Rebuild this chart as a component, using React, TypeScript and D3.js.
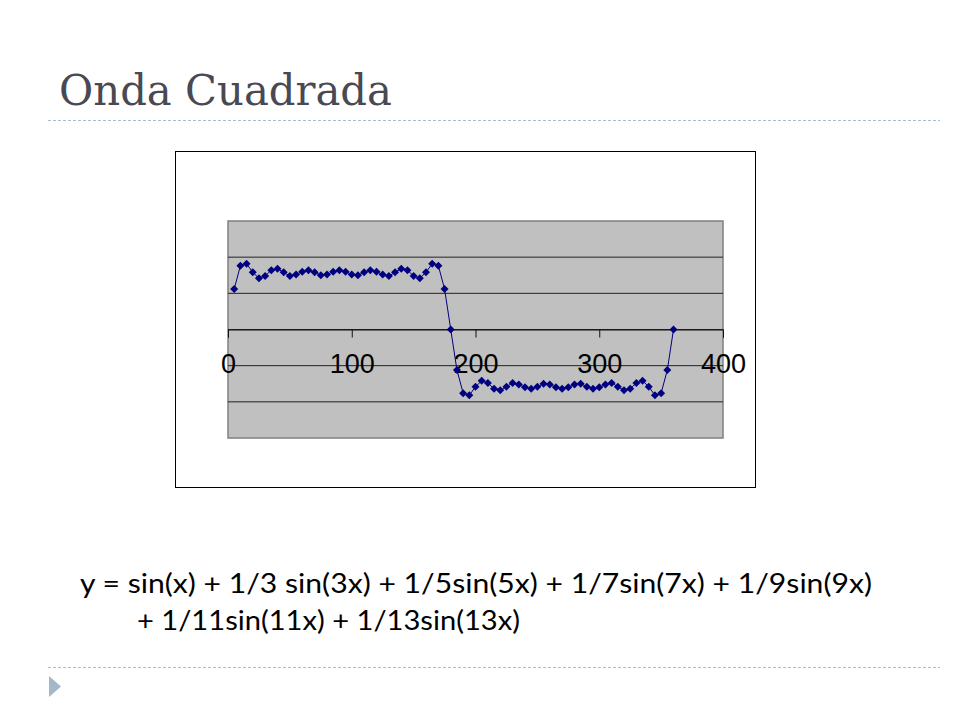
import React, { useEffect, useRef } from 'react';
import * as d3 from 'd3';

// degrees (x) and the sum of the first seven odd harmonics (y)
const xDeg = [
  5, 10, 15, 20, 25, 30, 35, 40, 45, 50, 55, 60, 65, 70, 75, 80, 85, 90,
  95, 100, 105, 110, 115, 120, 125, 130, 135, 140, 145, 150, 155, 160, 165, 170, 175,
  180,
  185, 190, 195, 200, 205, 210, 215, 220, 225, 230, 235, 240, 245, 250, 255, 260, 265, 270,
  275, 280, 285, 290, 295, 300, 305, 310, 315, 320, 325, 330, 335, 340, 345, 350, 355,
  360,
];
const yVal = [
  0.56, 0.88, 0.91, 0.79, 0.71, 0.74, 0.82, 0.84, 0.79, 0.74, 0.76, 0.8, 0.82, 0.79, 0.75, 0.76, 0.8, 0.82,
  0.8, 0.76, 0.75, 0.79, 0.82, 0.8, 0.76, 0.74, 0.79, 0.84, 0.82, 0.74, 0.71, 0.79, 0.91, 0.88, 0.56,
  0.0,
  -0.56, -0.88, -0.91, -0.79, -0.71, -0.74, -0.82, -0.84, -0.79, -0.74, -0.76, -0.8, -0.82, -0.79, -0.75, -0.76, -0.8, -0.82,
  -0.8, -0.76, -0.75, -0.79, -0.82, -0.8, -0.76, -0.74, -0.79, -0.84, -0.82, -0.74, -0.71, -0.79, -0.91, -0.88, -0.56,
  0.0,
];
const xTicks = [0, 100, 200, 300, 400];
const yGrid = [-1.5, -1, -0.5, 0, 0.5, 1, 1.5];

const title = 'Onda Cuadrada';
const formulaLine1 = 'y = sin(x) + 1/3 sin(3x) + 1/5sin(5x) + 1/7sin(7x) + 1/9sin(9x)';
const formulaLine2 = '+ 1/11sin(11x) + 1/13sin(13x)';

const W = 960;
const H = 720;

const App: React.FC = () => {
  const ref = useRef<SVGSVGElement | null>(null);

  useEffect(() => {
    const svg = d3.select(ref.current);
    svg.selectAll('*').remove();

    svg.append('rect').attr('width', W).attr('height', H).attr('fill', '#ffffff');

    // slide title + rules
    svg
      .append('text')
      .attr('x', 59)
      .attr('y', 105)
      .attr('font-family', '"DejaVu Serif", serif')
      .attr('font-size', 42)
      .attr('fill', '#494953')
      .attr('textLength', 333)
      .attr('lengthAdjust', 'spacingAndGlyphs')
      .text(title);

    [120.5, 667.5].forEach((y) => {
      svg
        .append('line')
        .attr('x1', 48)
        .attr('x2', 940)
        .attr('y1', y)
        .attr('y2', y)
        .attr('stroke', '#a9bccd')
        .attr('stroke-width', 1)
        .attr('stroke-dasharray', '3,2');
    });

    svg
      .append('path')
      .attr('d', 'M49,676 L61,686.5 L49,697 Z')
      .attr('fill', '#a5b7cb');

    // chart box
    svg
      .append('rect')
      .attr('x', 175.5)
      .attr('y', 151.5)
      .attr('width', 580)
      .attr('height', 336)
      .attr('fill', '#ffffff')
      .attr('stroke', '#000000');

    const x = d3.scaleLinear().domain([0, 400]).range([228, 723]);
    const y = d3.scaleLinear().domain([-1.5, 1.5]).range([438, 221]);

    svg
      .append('rect')
      .attr('x', x(0))
      .attr('y', y(1.5))
      .attr('width', x(400) - x(0))
      .attr('height', y(-1.5) - y(1.5))
      .attr('fill', '#c0c0c0')
      .attr('stroke', '#808080')
      .attr('stroke-width', 1.5);

    svg
      .append('g')
      .selectAll('line')
      .data(yGrid.slice(1, -1))
      .enter()
      .append('line')
      .attr('x1', x(0))
      .attr('x2', x(400))
      .attr('y1', (d) => y(d))
      .attr('y2', (d) => y(d))
      .attr('stroke', '#222222')
      .attr('stroke-width', 1);

    // x axis at y = 0, ticks hanging down, labels sitting on the next gridline
    const axis = d3
      .axisBottom(x)
      .tickValues(xTicks)
      .tickSize(8)
      .tickFormat((d) => String(d));
    const gAxis = svg.append('g').attr('transform', `translate(0,${y(0)})`).call(axis);
    gAxis.select('.domain').attr('stroke', '#111111');
    gAxis.selectAll('.tick line').attr('stroke', '#111111');
    gAxis
      .selectAll('.tick text')
      .attr('font-family', '"Liberation Sans", Arial, sans-serif')
      .attr('font-size', 27)
      .attr('fill', '#000000')
      .attr('y', 43)
      .attr('dy', '0');

    const pts = xDeg.map((d, i) => [d, yVal[i]] as [number, number]);

    svg
      .append('path')
      .datum(pts)
      .attr('fill', 'none')
      .attr('stroke', '#000080')
      .attr('stroke-width', 1)
      .attr(
        'd',
        d3
          .line<[number, number]>()
          .x((d) => x(d[0]))
          .y((d) => y(d[1]))
      );

    const marker = d3.symbol().type(d3.symbolSquare).size(32);
    svg
      .append('g')
      .selectAll('path')
      .data(pts)
      .enter()
      .append('path')
      .attr('d', marker)
      .attr('transform', (d) => `translate(${x(d[0])},${y(d[1])}) rotate(45)`)
      .attr('fill', '#000080');

    // formula
    svg
      .append('text')
      .attr('x', 80)
      .attr('y', 593)
      .attr('font-family', 'Lato, "Open Sans", sans-serif')
      .attr('font-size', 26)
      .attr('fill', '#000000')
      .attr('textLength', 792)
      .attr('lengthAdjust', 'spacingAndGlyphs')
      .text(formulaLine1);

    svg
      .append('text')
      .attr('x', 137)
      .attr('y', 630)
      .attr('font-family', 'Lato, "Open Sans", sans-serif')
      .attr('font-size', 26)
      .attr('fill', '#000000')
      .attr('textLength', 383)
      .attr('lengthAdjust', 'spacingAndGlyphs')
      .text(formulaLine2);
  }, []);

  return (
    <div style={{ position: 'absolute', left: 0, top: 0 }}>
      <svg ref={ref} width={W} height={H} />
    </div>
  );
};

export default App;
